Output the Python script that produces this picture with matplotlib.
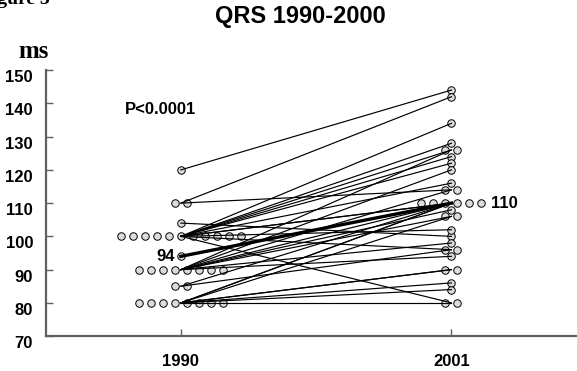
import numpy as np
import matplotlib.pyplot as plt
from matplotlib.transforms import ScaledTranslation

# paired QRS durations (ms), same patient in 1990 and 2001
qrs_1990 = [120, 110, 110, 104,
            100, 100, 100, 100, 100, 100, 100, 100, 100, 100, 100,
            90, 90, 90, 90, 90, 90, 90, 90,
            85, 85,
            80, 80, 80, 80, 80, 80, 80, 80]
qrs_2001 = [144, 142, 114, 100,
            134, 128, 126, 124, 122, 116, 110, 110, 102, 96, 80,
            126, 120, 114, 110, 108, 106, 98, 94,
            110, 96,
            110, 106, 90, 90, 86, 84, 80, 110]
years = ['1990', '2001']
mean_1990 = 94
mean_2001 = 110
y_ticks = [70, 80, 90, 100, 110, 120, 130, 140, 150]

plt.rcParams['font.family'] = ['Liberation Sans', 'DejaVu Sans']
plt.rcParams['font.weight'] = 'bold'

fig = plt.figure(figsize=(5.77, 3.71), dpi=100)
ax = fig.add_axes([0.079, 0.094, 0.921, 0.717])

step = 0.0444  # horizontal spacing of tied values


def spread(values, xc):
    # spread identical values side by side around the column centre
    xs = np.zeros(len(values))
    values = np.asarray(values)
    for v in np.unique(values):
        idx = np.where(values == v)[0]
        n = len(idx)
        xs[idx] = xc + (np.arange(n) - (n - 1) / 2) * step
    return xs


for xc, vals in [(1, qrs_1990), (2, qrs_2001)]:
    ax.plot(spread(vals, xc), vals, 'o', ms=5.4, mfc='#dcdcdc', mec='black',
            mew=0.7, ls='none', zorder=2)

for a, b in zip(qrs_1990, qrs_2001):
    ax.plot([1, 2], [a, b], color='black', lw=0.85, zorder=3)

ax.plot(1, mean_1990, 'o', ms=5.4, mfc='#dcdcdc', mec='black', mew=0.7, zorder=2)
ax.plot([1, 2], [mean_1990, mean_2001], color='black', lw=2.4, zorder=4)
ax.text(0.978, mean_1990, str(mean_1990), ha='right', va='center', fontsize=12)
ax.text(2.145, mean_2001, str(mean_2001), ha='left', va='center', fontsize=12)
ax.text(0.793, 138.3, 'P<0.0001', ha='left', va='center', fontsize=12)

ax.set_xlim(0.5, 2.464)
ax.set_ylim(70, 150)
ax.set_xticks([1, 2], years)
ax.set_yticks(y_ticks)
for s in ['top', 'right']:
    ax.spines[s].set_visible(False)
for s in ['left', 'bottom']:
    ax.spines[s].set_color('#606060')
    ax.spines[s].set_linewidth(1.6)
ax.tick_params(axis='both', direction='in', length=5, width=1, color='#606060',
               labelsize=12)
ax.tick_params(axis='y', pad=9)
ax.tick_params(axis='x', pad=13)
shift = ScaledTranslation(0, -6 / 100, fig.dpi_scale_trans)
for lab in ax.get_yticklabels():
    lab.set_transform(lab.get_transform() + shift)

fig.text(0.52, 0.987, 'QRS 1990-2000', ha='center', va='top', fontsize=17)
fig.text(0.031, 0.844, 'ms', ha='left', va='baseline', fontsize=18,
         family='Liberation Serif')
fig.text(-0.035, 0.99, 'Figure 3', ha='left', va='baseline', fontsize=14,
         family='Liberation Serif')

fig.savefig('out.png', dpi=100)
